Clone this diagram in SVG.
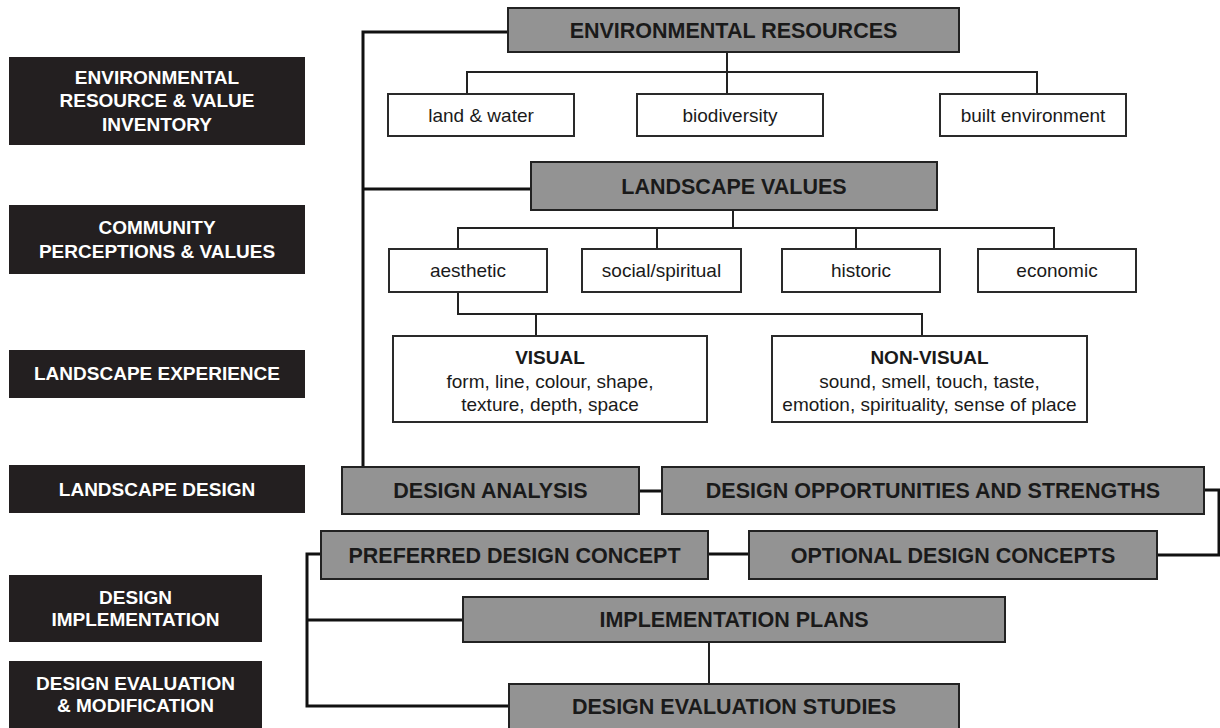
<svg xmlns="http://www.w3.org/2000/svg" width="1220" height="728" viewBox="0 0 1220 728">
<style>
.side rect{fill:#231f20}
.side text{fill:#fff;font-family:"Liberation Sans",Arial,sans-serif;font-weight:bold;font-size:19px;text-anchor:middle}
.grey rect{fill:#939393;stroke:#222;stroke-width:2}
.grey text{fill:#1a1a1a;font-family:"Liberation Sans",Arial,sans-serif;font-weight:bold;font-size:21.5px;text-anchor:middle}
.white rect{fill:#fff;stroke:#2a2a2a;stroke-width:2}
.white text{fill:#1a1a1a;font-family:"Liberation Sans",Arial,sans-serif;font-size:19px;text-anchor:middle}
.white text.b{font-weight:bold}
.thick{fill:none;stroke:#111;stroke-width:3}
.thin{fill:none;stroke:#222;stroke-width:2}
</style>
<rect width="1220" height="728" fill="#fff"/>
<g id="connectors">
<path class="thick" d="M508 32 H363 V467 M363 189 H531"/>
<path class="thin" d="M727 52 V72 M467 94 V72 H1037 V94 M727 72 V94"/>
<path class="thin" d="M733 210 V228 M458 249 V228 H1054 V249 M657 228 V249 M856 228 V249"/>
<path class="thin" d="M458 292 V314 H922 V336 M536 314 V336"/>
<path class="thick" d="M639 491 H662 M1204 490 H1219 V555 H1157 M708 554 H749"/>
<path class="thick" d="M321 554 H307 V706 H509 M307 620 H463"/>
<path class="thin" d="M709 642 V684"/>
</g>
<g id="side-inventory" class="side"><rect x="9" y="57" width="296" height="88"/><text x="157" y="84">ENVIRONMENTAL</text><text x="157" y="107">RESOURCE &amp; VALUE</text><text x="157" y="131">INVENTORY</text></g>
<g id="side-community" class="side"><rect x="9" y="205" width="296" height="69"/><text x="157" y="234">COMMUNITY</text><text x="157" y="258">PERCEPTIONS &amp; VALUES</text></g>
<g id="side-experience" class="side"><rect x="9" y="350" width="296" height="48"/><text x="157" y="380">LANDSCAPE EXPERIENCE</text></g>
<g id="side-design" class="side"><rect x="9" y="465" width="296" height="48"/><text x="157" y="496">LANDSCAPE DESIGN</text></g>
<g id="side-implementation" class="side"><rect x="9" y="575" width="253" height="67"/><text x="135.5" y="604">DESIGN</text><text x="135.5" y="626">IMPLEMENTATION</text></g>
<g id="side-evaluation" class="side"><rect x="9" y="661" width="253" height="67"/><text x="135.5" y="690">DESIGN EVALUATION</text><text x="135.5" y="712">&amp; MODIFICATION</text></g>
<g id="env-resources" class="grey"><rect x="508" y="8" width="451" height="44"/><text x="733.5" y="38">ENVIRONMENTAL RESOURCES</text></g>
<g id="land-water" class="white"><rect x="388" y="94" width="186" height="42"/><text x="481" y="122">land &amp; water</text></g>
<g id="biodiversity" class="white"><rect x="637" y="94" width="186" height="42"/><text x="730" y="122">biodiversity</text></g>
<g id="built-environment" class="white"><rect x="940" y="94" width="186" height="42"/><text x="1033" y="122">built environment</text></g>
<g id="landscape-values" class="grey"><rect x="531" y="162" width="406" height="48"/><text x="734" y="194">LANDSCAPE VALUES</text></g>
<g id="aesthetic" class="white"><rect x="389" y="249" width="158" height="43"/><text x="468" y="277">aesthetic</text></g>
<g id="social-spiritual" class="white"><rect x="582" y="249" width="159" height="43"/><text x="661.5" y="277">social/spiritual</text></g>
<g id="historic" class="white"><rect x="782" y="249" width="158" height="43"/><text x="861" y="277">historic</text></g>
<g id="economic" class="white"><rect x="978" y="249" width="158" height="43"/><text x="1057" y="277">economic</text></g>
<g id="visual" class="white"><rect x="393" y="336" width="314" height="86"/><text class="b" x="550" y="364">VISUAL</text><text x="550" y="388">form, line, colour, shape,</text><text x="550" y="411">texture, depth, space</text></g>
<g id="non-visual" class="white"><rect x="772" y="336" width="315" height="86"/><text class="b" x="929.5" y="364">NON-VISUAL</text><text x="929.5" y="388">sound, smell, touch, taste,</text><text x="929.5" y="411">emotion, spirituality, sense of place</text></g>
<g id="design-analysis" class="grey"><rect x="342" y="467" width="297" height="47"/><text x="490.5" y="498">DESIGN ANALYSIS</text></g>
<g id="design-opportunities" class="grey"><rect x="662" y="467" width="542" height="47"/><text x="933" y="498">DESIGN OPPORTUNITIES AND STRENGTHS</text></g>
<g id="preferred-concept" class="grey"><rect x="321" y="531" width="387" height="48"/><text x="514.5" y="563">PREFERRED DESIGN CONCEPT</text></g>
<g id="optional-concepts" class="grey"><rect x="749" y="531" width="408" height="48"/><text x="953" y="563">OPTIONAL DESIGN CONCEPTS</text></g>
<g id="implementation-plans" class="grey"><rect x="463" y="597" width="542" height="45"/><text x="734" y="627">IMPLEMENTATION PLANS</text></g>
<g id="evaluation-studies" class="grey"><rect x="509" y="684" width="450" height="46"/><text x="734" y="714">DESIGN EVALUATION STUDIES</text></g>
</svg>
